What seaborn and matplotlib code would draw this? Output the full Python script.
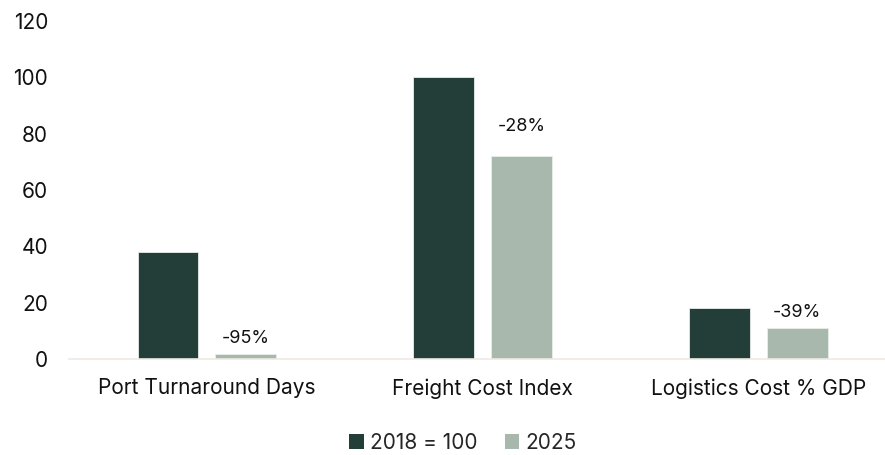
import matplotlib
matplotlib.use("Agg")
import matplotlib.pyplot as plt
import seaborn as sns
import pandas as pd
from matplotlib.patches import Patch

categories = ["Port Turnaround Days", "Freight Cost Index", "Logistics Cost % GDP"]
series_names = ["2018 = 100", "2025"]
values_2018 = [38, 100, 18]
values_2025 = [1.9, 72, 11]
change_labels = ["-95%", "-28%", "-39%"]
label_offsets = [5, 15, 5]  # points above the 2025 bar

colors = ["#233d38", "#a9b8ad"]

df = pd.DataFrame({
    "category": categories * 2,
    "series": [series_names[0]] * 3 + [series_names[1]] * 3,
    "value": values_2018 + values_2025,
})

sns.set_theme(style="white")
plt.rcParams["font.family"] = ["Inter", "DejaVu Sans"]

fig = plt.figure(figsize=(8.85, 4.55), dpi=100)
ax = fig.add_axes([69 / 885, 1 - 359 / 455, (885 - 69) / 885, (359 - 21) / 455])

sns.barplot(data=df, x="category", y="value", hue="series", palette=colors,
            order=categories, hue_order=series_names, width=0.565, gap=0.22,
            ax=ax, legend=False, saturation=1, edgecolor="#e8ede9", linewidth=0.6)

ax.set_ylim(0, 120)
ax.set_xlim(-0.5, 2.46)
ax.set_yticks(range(0, 121, 20))
ax.set_xlabel("")
ax.set_ylabel("")
ax.tick_params(axis="y", labelsize=15, length=0, pad=15, colors="#111111")
ax.tick_params(axis="x", labelsize=15, length=0, pad=14, colors="#111111")
for s in ["top", "right", "left"]:
    ax.spines[s].set_visible(False)
ax.spines["bottom"].set_color("#efe9e4")
ax.spines["bottom"].set_linewidth(1.2)

# change labels above the 2025 bars
bars_2025 = ax.containers[1]
for bar, val, txt, off in zip(bars_2025, values_2025, change_labels, label_offsets):
    ax.annotate(txt, (bar.get_x() + bar.get_width() / 2, val),
                xytext=(0, off), textcoords="offset points",
                ha="center", va="bottom", fontsize=13, color="#111111")

handles = [Patch(facecolor=c, edgecolor="none") for c in colors]
fig.legend(handles, series_names, loc="center", bbox_to_anchor=(0.523, 1 - 443 / 455),
           ncol=2, frameon=False, fontsize=15, handlelength=0.7, handleheight=0.7,
           handletextpad=0.3, columnspacing=1.3)

fig.savefig("out.png", dpi=100)
